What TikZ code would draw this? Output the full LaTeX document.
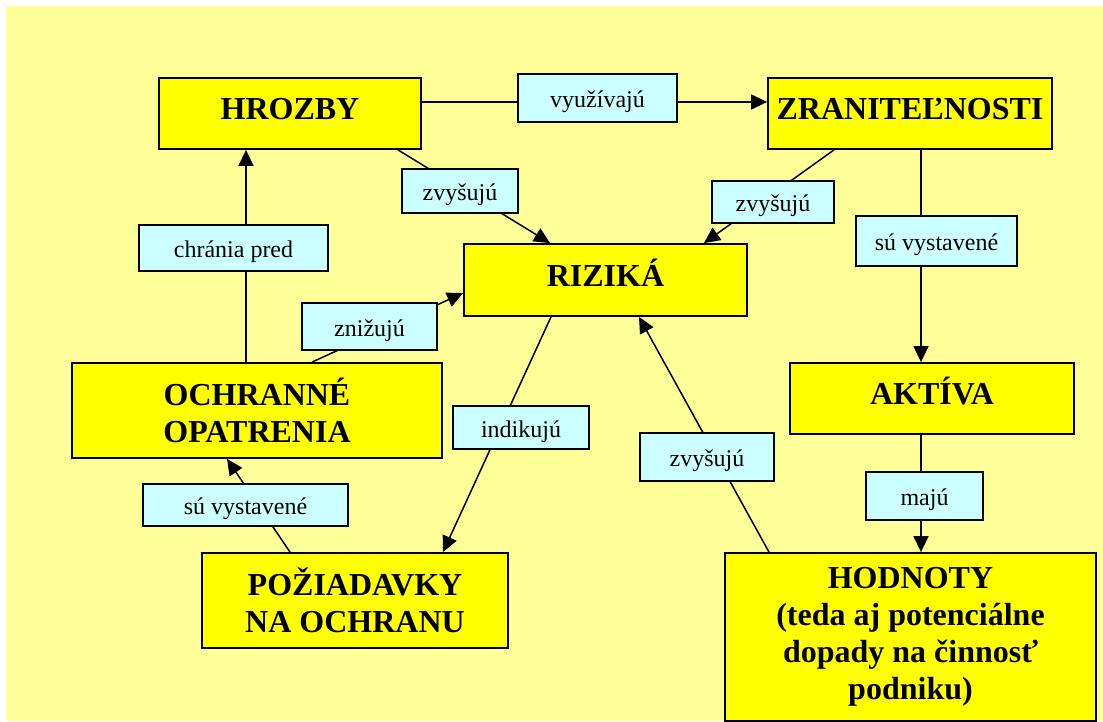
\documentclass[tikz,border=0pt]{standalone}
\usepackage{fontspec}
\setmainfont{Liberation Serif}
\usetikzlibrary{arrows.meta,calc}
\pgfdeclarelayer{back}
\pgfdeclarelayer{lines}
\pgfsetlayers{back,lines,main}
\definecolor{paper}{RGB}{255,255,153}
\definecolor{boxyellow}{RGB}{255,255,0}
\definecolor{tagcyan}{RGB}{204,255,255}

\begin{document}
\begin{tikzpicture}[x=1pt,y=-1pt,
  bigbox/.style={draw=black, line width=1.8pt, fill=boxyellow, inner sep=0pt,
    font=\fontsize{32}{37}\selectfont\bfseries, align=center},
  onebox/.style={bigbox, text height=12pt, text depth=0pt},
  tag/.style={draw=black, line width=1.8pt, fill=tagcyan, inner sep=0pt,
    font=\fontsize{24}{28}\selectfont, text height=19pt, text depth=0pt},
  link/.style={line width=1.5pt},
  arrow/.style={link, -{Triangle[length=16pt,width=15pt]}}]

\useasboundingbox (0,0) rectangle (1103,722);
\begin{pgfonlayer}{back}
  \fill[white] (0,0) rectangle (1103,722);
  \fill[paper] (6,6) rectangle (1103,721);
\end{pgfonlayer}

% main concepts
\node[onebox, minimum width=262pt, minimum height=71pt] (hrozby) at (290,113.5) {HROZBY};
\node[onebox, minimum width=284pt, minimum height=71pt] (zranit) at (910,113.5) {ZRANITEĽNOSTI};
\node[onebox, minimum width=283pt, minimum height=72pt] (rizika) at (605.5,280) {RIZIKÁ};
\node[bigbox, minimum width=370pt, minimum height=95pt] (ochrana) at (257,410.5) {OCHRANNÉ\\OPATRENIA};
\node[onebox, minimum width=284pt, minimum height=71pt] (aktiva) at (932,398.5) {AKTÍVA};
\node[bigbox, minimum width=306pt, minimum height=95pt] (poziad) at (355,600.5) {POŽIADAVKY\\NA OCHRANU};
\node[bigbox, minimum width=371pt, minimum height=168pt] (hodnoty) at (910.5,637) {HODNOTY\\(teda aj potenciálne\\dopady na činnosť\\podniku)};

% relation labels
\node[tag, minimum width=159pt, minimum height=48pt] (vyuz) at (597.5,98) {využívajú};
\node[tag, minimum width=116pt, minimum height=44pt] (zvysA) at (460,191) {zvyšujú};
\node[tag, minimum width=122pt, minimum height=42pt] (zvysB) at (773,202) {zvyšujú};
\node[tag, minimum width=189pt, minimum height=46pt] (chrania) at (233.5,248) {chránia pred};
\node[tag, minimum width=161pt, minimum height=50pt] (vystA) at (936.5,241) {sú vystavené};
\node[tag, minimum width=135pt, minimum height=47pt] (zniz) at (369.5,326.5) {znižujú};
\node[tag, minimum width=136pt, minimum height=43pt] (indik) at (521,427.5) {indikujú};
\node[tag, minimum width=134pt, minimum height=48pt] (zvysC) at (707,457) {zvyšujú};
\node[tag, minimum width=117pt, minimum height=48pt] (maju) at (924.5,496) {majú};
\node[tag, minimum width=205pt, minimum height=42pt] (vystB) at (245.5,505) {sú vystavené};

% connectors run underneath the label boxes
\begin{pgfonlayer}{lines}
  \draw[arrow] ([yshift=11.5pt]hrozby.east) -- ([yshift=11.5pt]zranit.west);
  \draw[arrow] ([xshift=108pt]hrozby.south) -- ([xshift=-55.5pt]rizika.north);
  \draw[arrow] ([xshift=-76pt]zranit.south) -- ([xshift=98.5pt]rizika.north);
  \draw[arrow] ([xshift=-11pt]ochrana.north) -- ([xshift=-44pt]hrozby.south);
  \draw[arrow] ([xshift=55pt]ochrana.north) -- ([yshift=-13pt]rizika.west);
  \draw[arrow] ([xshift=-54.5pt]rizika.south) -- ([xshift=88pt]poziad.north);
  \draw[arrow] ([xshift=-141.5pt]hodnoty.north) -- ([xshift=33.5pt]rizika.south);
  \draw[arrow] ([xshift=-65pt]poziad.north) -- ([xshift=-30pt]ochrana.south);
  \draw[arrow] ([xshift=11pt]zranit.south) -- ([xshift=-11pt]aktiva.north);
  \draw[arrow] ([xshift=-11pt]aktiva.south) -- ([xshift=10.5pt]hodnoty.north);
\end{pgfonlayer}
\end{tikzpicture}
\end{document}
